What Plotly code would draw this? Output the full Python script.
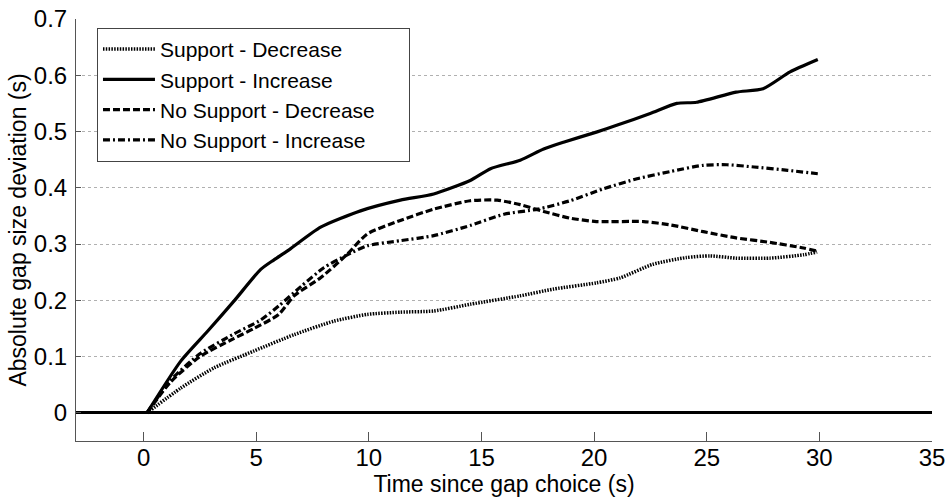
import plotly.graph_objects as go

# Time since gap choice (s) and mean absolute gap size deviation (s) per condition
t_sup_dec = [0.15, 1.65, 3.13, 4.9, 6.68, 8.45, 9.93, 11.4, 12.88, 14.5, 16.72, 18.2, 20.1, 21.16, 22.6, 24.1, 25.15, 26.3, 27.8, 29.3, 29.9]
y_sup_dec = [0.0, 0.044, 0.080, 0.110, 0.139, 0.163, 0.175, 0.179, 0.181, 0.193, 0.208, 0.220, 0.231, 0.240, 0.264, 0.276, 0.279, 0.275, 0.275, 0.281, 0.286]

t_sup_inc = [0.15, 1.65, 2.84, 4.02, 5.2, 5.79, 6.53, 7.86, 9.63, 11.4, 12.88, 14.5, 15.4, 16.72, 17.76, 18.64, 20.1, 21.0, 22.49, 23.67, 24.55, 26.3, 27.5, 28.7, 29.93]
y_sup_inc = [0.0, 0.092, 0.145, 0.199, 0.255, 0.272, 0.292, 0.330, 0.359, 0.378, 0.389, 0.413, 0.434, 0.449, 0.469, 0.481, 0.499, 0.511, 0.532, 0.550, 0.552, 0.570, 0.576, 0.606, 0.628]

t_nosup_dec = [0.15, 1.2, 2.5, 4.0, 4.9, 6.0, 6.68, 7.86, 9.04, 9.93, 11.4, 12.88, 14.5, 15.7, 16.72, 17.76, 18.94, 20.1, 22.2, 23.4, 24.85, 26.3, 27.8, 29.3, 29.93]
y_nosup_dec = [0.0, 0.055, 0.100, 0.132, 0.150, 0.175, 0.208, 0.240, 0.282, 0.318, 0.342, 0.362, 0.377, 0.378, 0.370, 0.358, 0.346, 0.340, 0.340, 0.334, 0.322, 0.311, 0.303, 0.293, 0.287]

t_nosup_inc = [0.15, 1.2, 2.5, 4.0, 5.2, 6.0, 7.0, 8.0, 9.0, 9.93, 11.4, 12.88, 14.5, 16.0, 17.5, 18.94, 20.4, 21.9, 23.4, 24.85, 25.9, 27.1, 28.6, 29.93]
y_nosup_inc = [0.0, 0.058, 0.105, 0.140, 0.165, 0.190, 0.225, 0.258, 0.280, 0.297, 0.306, 0.315, 0.333, 0.353, 0.362, 0.377, 0.398, 0.416, 0.429, 0.440, 0.441, 0.437, 0.431, 0.425]

x_ticks = [0, 5, 10, 15, 20, 25, 30, 35]
y_ticks = [0, 0.1, 0.2, 0.3, 0.4, 0.5, 0.6, 0.7]
y_tick_text = ["0", "0.1", "0.2", "0.3", "0.4", "0.5", "0.6", "0.7"]

FONT = "Liberation Sans, Arial, Helvetica, sans-serif"
PAD = "\u00a0" * 5  # keeps some blank room at the right side of the legend box

fig = go.Figure()
fig.add_trace(go.Scatter(x=t_sup_dec, y=y_sup_dec, mode="lines", name="Support - Decrease",
                         line=dict(color="black", width=3.5, dash="1.5px,1.3px", shape="spline", smoothing=0.6)))
fig.add_trace(go.Scatter(x=t_sup_inc, y=y_sup_inc, mode="lines", name="Support - Increase",
                         line=dict(color="black", width=3.2, shape="spline", smoothing=0.6)))
fig.add_trace(go.Scatter(x=t_nosup_dec, y=y_nosup_dec, mode="lines", name="No Support - Decrease" + PAD,
                         line=dict(color="black", width=3.2, dash="7px,3px", shape="spline", smoothing=0.6)))
fig.add_trace(go.Scatter(x=t_nosup_inc, y=y_nosup_inc, mode="lines", name="No Support - Increase",
                         line=dict(color="black", width=3.2, dash="7px,3px,2px,3px", shape="spline", smoothing=0.6)))

fig.update_layout(
    width=952, height=501,
    margin=dict(l=76, r=20, t=19, b=60, autoexpand=False),
    paper_bgcolor="white", plot_bgcolor="white",
    font=dict(family=FONT, size=20, color="black"),
    showlegend=True,
    legend=dict(x=0.0245, y=0.979, xanchor="left", yanchor="top",
                bgcolor="white", bordercolor="#444", borderwidth=1,
                font=dict(size=21), tracegroupgap=0, itemwidth=52),
)
fig.update_xaxes(
    range=[-3, 35], tickvals=x_ticks, ticks="inside", ticklen=9, tickcolor="#555",
    showline=True, linecolor="#555", linewidth=1, showgrid=False, zeroline=False,
    tickfont=dict(size=24), ticklabelstandoff=-5, automargin=False,
    title=dict(text="Time since gap choice (s)", font=dict(size=23), standoff=2),
)
fig.update_yaxes(
    range=[-0.05, 0.7], tickvals=y_ticks, ticktext=y_tick_text, ticks="inside", ticklen=5, tickcolor="#555",
    showline=True, linecolor="#555", linewidth=1,
    showgrid=True, gridcolor="#b0b0b0", griddash="dot", gridwidth=1,
    zeroline=True, zerolinecolor="black", zerolinewidth=3,
    tickfont=dict(size=24), ticklabelstandoff=3, automargin=False,
    title=dict(text="Absolute gap size deviation (s)", font=dict(size=23), standoff=0),
)

fig.write_html("out.html")
